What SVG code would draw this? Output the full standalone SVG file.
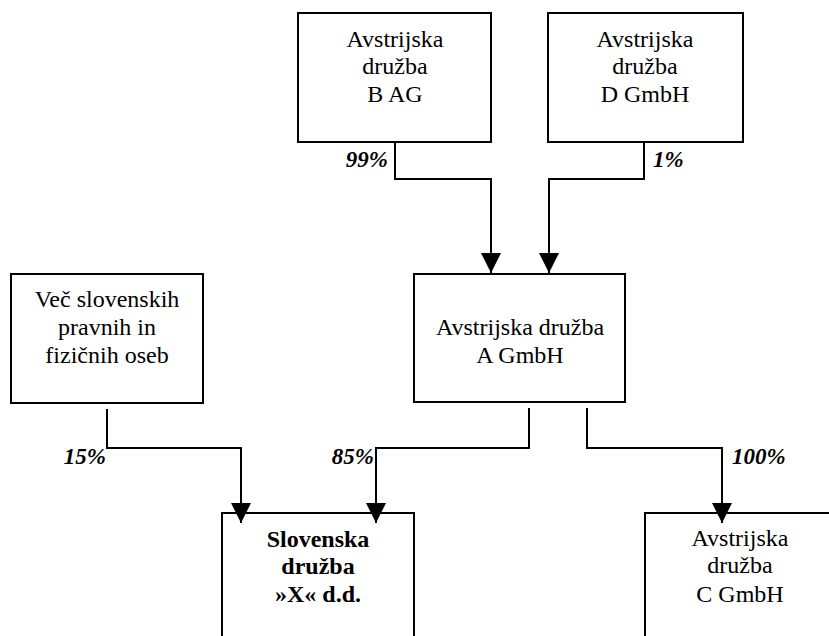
<svg xmlns="http://www.w3.org/2000/svg" width="829" height="636" viewBox="0 0 829 636">
<style>
.box{fill:#fff;stroke:#000;stroke-width:2}
.t{font-family:'Liberation Serif','DejaVu Serif Condensed',serif;font-size:24px;fill:#000;text-anchor:middle}
.b{font-weight:bold}
.lbl{font-family:'Liberation Serif','DejaVu Serif Condensed',serif;font-size:23px;font-weight:bold;font-style:italic;fill:#000}
.c{fill:none;stroke:#000;stroke-width:2}
</style>
<defs>
<marker id="arr" markerUnits="userSpaceOnUse" markerWidth="20" markerHeight="20" viewBox="0 0 20 20" refX="20" refY="10" orient="auto">
<path d="M0,0 L20,10 L0,20 Z" fill="#000"/>
</marker>
</defs>
<rect width="829" height="636" fill="#fff"/>
<g id="nodeB">
<rect class="box" x="298" y="13" width="193" height="129"/>
<text class="t" x="395" y="47">Avstrijska</text>
<text class="t" x="395" y="74">družba</text>
<text class="t" x="395" y="102">B AG</text>
</g>
<g id="nodeD">
<rect class="box" x="548" y="13" width="195" height="129"/>
<text class="t" x="645" y="47">Avstrijska</text>
<text class="t" x="645" y="74">družba</text>
<text class="t" x="645" y="102">D GmbH</text>
</g>
<g id="nodeA">
<rect class="box" x="414" y="274" width="211" height="128"/>
<text class="t" x="520" y="335">Avstrijska družba</text>
<text class="t" x="520" y="363">A GmbH</text>
</g>
<g id="nodeVec">
<rect class="box" x="11" y="274" width="192" height="129"/>
<text class="t" x="107" y="307">Več slovenskih</text>
<text class="t" x="107" y="335">pravnih in</text>
<text class="t" x="107" y="363">fizičnih oseb</text>
</g>
<g id="nodeX">
<rect class="box" x="222" y="513" width="192" height="140"/>
<text class="t b" x="318" y="547">Slovenska</text>
<text class="t b" x="318" y="574">družba</text>
<text class="t b" x="318" y="602">»X« d.d.</text>
</g>
<g id="nodeC">
<rect class="box" x="645" y="513" width="192" height="140"/>
<text class="t" x="740" y="546">Avstrijska</text>
<text class="t" x="740" y="573">družba</text>
<text class="t" x="740" y="602">C GmbH</text>
</g>
<g id="connectors">
<path class="c" d="M395,142 V179 H491 V273" marker-end="url(#arr)"/>
<path class="c" d="M644,142 V179 H549 V273" marker-end="url(#arr)"/>
<path class="c" d="M107,409 V448 H241 V523" marker-end="url(#arr)"/>
<path class="c" d="M529,408 V448 H376 V523" marker-end="url(#arr)"/>
<path class="c" d="M587,408 V448 H722 V523" marker-end="url(#arr)"/>
</g>
<g id="labels">
<text class="lbl" x="388" y="167" text-anchor="end">99%</text>
<text class="lbl" x="653" y="167">1%</text>
<text class="lbl" x="106" y="464" text-anchor="end">15%</text>
<text class="lbl" x="374" y="464" text-anchor="end">85%</text>
<text class="lbl" x="732" y="464">100%</text>
</g>
</svg>
